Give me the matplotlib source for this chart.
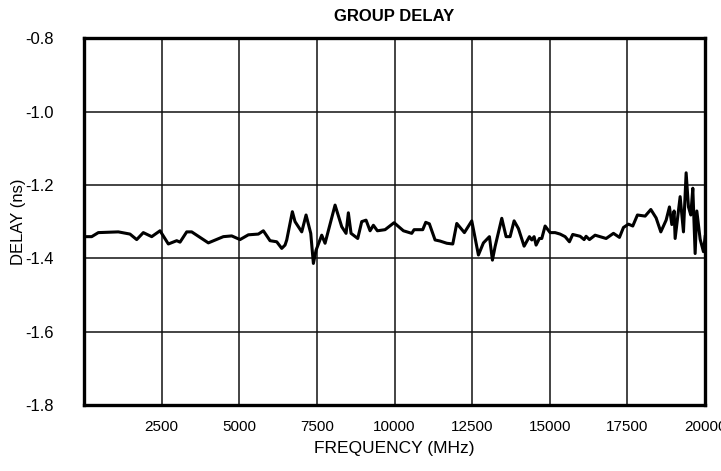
import numpy as np
import matplotlib.pyplot as plt

# group delay trace (frequency in MHz, delay in ns)
freq_mhz = [0, 248, 461, 1105, 1481, 1697, 1910, 2180, 2448, 2716, 2985, 3092,
            3307, 3468, 4004, 4487, 4757, 5024, 5292, 5614, 5775, 5990, 6206,
            6367, 6473, 6528, 6709, 6795, 7011, 7150, 7301, 7386, 7472, 7655,
            7762, 8084, 8299, 8438, 8512, 8599, 8814, 8943, 9082, 9211, 9318,
            9447, 9694, 9984, 10285, 10553, 10628, 10907, 11004, 11120, 11304,
            11465, 11681, 11874, 12003, 12248, 12486, 12700, 12861, 13054,
            13151, 13237, 13452, 13591, 13720, 13849, 13988, 14171, 14342,
            14418, 14493, 14557, 14664, 14740, 14847, 15008, 15169, 15330,
            15491, 15630, 15737, 15974, 16103, 16167, 16274, 16457, 16812,
            17048, 17241, 17370, 17531, 17670, 17820, 18068, 18251, 18422,
            18573, 18744, 18851, 18927, 19001, 19034, 19195, 19302, 19388,
            19463, 19538, 19603, 19678, 19732, 19839, 19946, 20000]
delay_ns = [-1.341, -1.341, -1.330, -1.328, -1.334, -1.349, -1.330, -1.341,
            -1.325, -1.361, -1.352, -1.356, -1.328, -1.328, -1.358, -1.341,
            -1.339, -1.349, -1.336, -1.334, -1.325, -1.352, -1.355, -1.373,
            -1.364, -1.350, -1.273, -1.300, -1.328, -1.282, -1.332, -1.414,
            -1.378, -1.337, -1.359, -1.255, -1.314, -1.332, -1.276, -1.332,
            -1.346, -1.300, -1.296, -1.325, -1.310, -1.325, -1.322, -1.303,
            -1.325, -1.332, -1.322, -1.322, -1.302, -1.306, -1.350, -1.353,
            -1.359, -1.361, -1.305, -1.330, -1.298, -1.391, -1.358, -1.341,
            -1.405, -1.368, -1.291, -1.341, -1.341, -1.298, -1.319, -1.367,
            -1.341, -1.350, -1.341, -1.364, -1.346, -1.346, -1.312, -1.330,
            -1.330, -1.334, -1.341, -1.355, -1.335, -1.340, -1.349, -1.340,
            -1.349, -1.337, -1.346, -1.332, -1.343, -1.316, -1.307, -1.312,
            -1.282, -1.285, -1.267, -1.290, -1.328, -1.296, -1.260, -1.308,
            -1.271, -1.346, -1.232, -1.328, -1.167, -1.260, -1.282, -1.209,
            -1.387, -1.271, -1.348, -1.382, -1.341]

x_ticks = [0, 2500, 5000, 7500, 10000, 12500, 15000, 17500, 20000]
x_labels = ["", "2500", "5000", "7500", "10000", "12500", "15000", "17500", "20000"]
y_ticks = [-1.8, -1.6, -1.4, -1.2, -1.0, -0.8]

plt.rcParams["font.family"] = ["Liberation Sans", "DejaVu Sans"]

fig = plt.figure(figsize=(7.21, 4.71), dpi=100)
ax = fig.add_axes([0.1165, 0.140, 0.8615, 0.779])

ax.plot(freq_mhz, delay_ns, color="black", lw=2.2, zorder=3)

ax.set_xlim(0, 20000)
ax.set_ylim(-1.8, -0.8)
ax.set_xticks(x_ticks)
ax.set_xticklabels(x_labels, fontsize=11)
ax.set_yticks(y_ticks)
ax.set_yticklabels([f"{v:.1f}" for v in y_ticks], fontsize=12)
ax.tick_params(length=0)
ax.tick_params(axis="x", pad=11)
ax.tick_params(axis="y", pad=22)
ax.grid(True, color="#111111", lw=1.1)
for s in ax.spines.values():
    s.set_linewidth(2.4)

ax.set_title("GROUP DELAY", fontweight="bold", fontsize=12, pad=12)
ax.set_xlabel("FREQUENCY (MHz)", fontsize=12.5, labelpad=5)
ax.set_ylabel("DELAY (ns)", fontsize=12, labelpad=-1)

fig.savefig("out.png", dpi=100)
